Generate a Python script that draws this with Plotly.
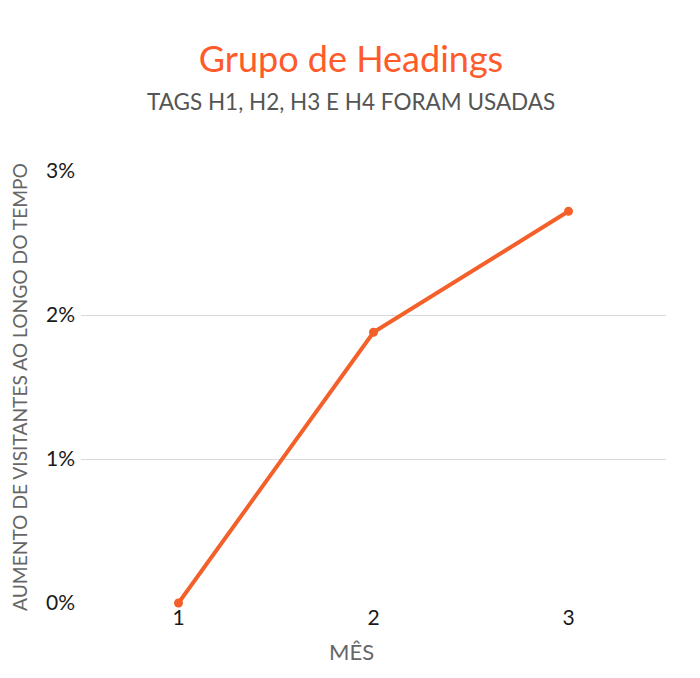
import plotly.graph_objects as go

# Data
months = [1, 2, 3]
growth = [0.0, 1.88, 2.72]  # percent
y_ticks = [0, 1, 2, 3]
y_tick_labels = ['0%', '1%', '2%', '3%']

orange = '#f4602a'

# page offset of the photographed figure (body margin)
off = 7

fig = go.Figure()
fig.add_trace(go.Scatter(
    x=months, y=growth,
    mode='lines+markers',
    line=dict(color=orange, width=4),
    marker=dict(color=orange, size=9),
    showlegend=False,
    cliponaxis=False
))

# plot area in screen px: x 80..665, y 170..602
fig.update_layout(
    width=700, height=678,
    paper_bgcolor='white', plot_bgcolor='white',
    margin=dict(l=80 - off, r=35 + off, t=170 - off, b=76 + off),
    title=dict(
        text='Grupo de Headings',
        font=dict(family='Lato', size=36, color='#ff5a2a'),
        x=(350 - off) / 700, xanchor='center', xref='container',
        y=1 - (58 - off) / 678, yanchor='middle', yref='container'
    ),
    annotations=[
        dict(
            text='TAGS H1, H2, H3 E H4 FORAM USADAS',
            xref='paper', yref='paper', x=(350 - 80) / 585, y=1 + (170 - 101) / 432,
            xanchor='center', yanchor='middle', showarrow=False,
            font=dict(family='Lato', size=22.5, color='#555555')
        ),
        dict(
            text='MÊS',
            xref='paper', yref='paper', x=(350 - 80) / 585, y=-(650 - 602) / 432,
            xanchor='center', yanchor='middle', showarrow=False,
            font=dict(family='Lato', size=22, color='#666666')
        ),
    ]
)

fig.update_xaxes(
    range=[0.5, 3.5],
    tickvals=months, ticktext=[str(m) for m in months],
    tickfont=dict(family='Lato', size=21, color='#1a1a1a'),
    showgrid=False, zeroline=False, showline=False,
    ticks='', ticklabelstandoff=0
)
fig.update_yaxes(
    range=[0, 3],
    tickvals=y_ticks, ticktext=y_tick_labels,
    tickfont=dict(family='Lato', size=21, color='#1a1a1a'),
    showgrid=True, gridcolor='#d9d9d9', gridwidth=1,
    zeroline=False, showline=False, ticks='',
    ticklabelstandoff=5,
    title=dict(text='AUMENTO DE VISITANTES AO LONGO DO TEMPO',
               font=dict(family='Lato', size=19.2, color='#666666'), standoff=13)
)

fig.write_html('out.html')
